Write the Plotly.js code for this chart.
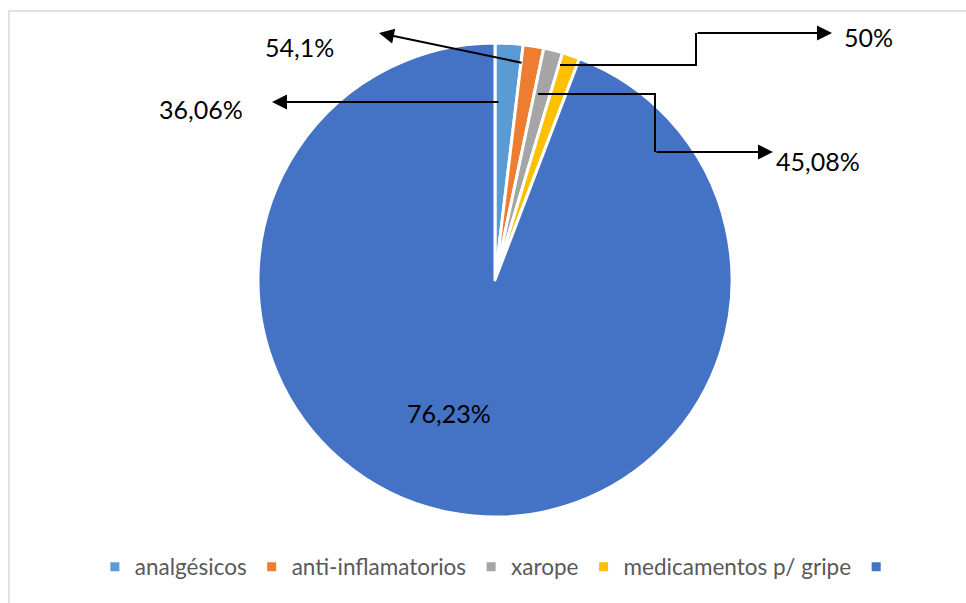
<!DOCTYPE html>
<html>
<head>
<meta charset="utf-8">
<script src="https://cdn.plot.ly/plotly-3.0.1.min.js"></script>
<style>
  html, body { margin: 0; padding: 0; background: #ffffff; }
  #chart { width: 966px; height: 603px; }
</style>
</head>
<body>
<div id="chart"></div>
<script>
// ---- data ----
const categories = ['analgésicos', 'anti-inflamatorios', 'xarope', 'medicamentos p/ gripe', ' '];
const sliceValues = [1.9, 1.4, 1.3, 1.2, 94.2];
const labelTexts = ['36,06%', '54,1%', '45,08%', '50%', '76,23%'];
const sliceColors = ['#5b9bd5', '#ed7d31', '#a5a5a5', '#ffc000', '#4472c4'];

// ---- geometry helpers (pixels -> paper) ----
const W = 966, H = 603;
const px = x => x / W;
const py = y => 1 - y / H;

// label placement (layout decoration, pixel coords): path points, last point = arrow tip
const leaders = [
  { pts: [[500, 102], [272, 102]], text: [201, 109] },
  { pts: [[523, 63], [379, 33]], text: [299, 47] },
  { pts: [[538, 94], [655, 94], [655, 152], [773, 152]], text: [818, 161] },
  { pts: [[560, 65], [696, 65], [696, 33], [832, 33]], text: [868, 37] },
  { pts: [], text: [449, 413] }
];

const shapes = [{
  type: 'rect', xref: 'paper', yref: 'paper',
  x0: px(9), x1: px(W + 20), y0: py(H + 20), y1: py(11),
  line: { color: '#d9d9d9', width: 1.5 }, fillcolor: 'rgba(0,0,0,0)', layer: 'below'
}];
const annotations = [];
const labelFont = { family: 'Lato, "Noto Sans", sans-serif', size: 25, color: '#000000' };

leaders.forEach((ld, i) => {
  const p = ld.pts;
  if (p.length > 2) {
    let d = '';
    for (let k = 0; k < p.length - 1; k++) {
      d += (k === 0 ? 'M' : 'L') + px(p[k][0]) + ',' + py(p[k][1]) + ' ';
    }
    shapes.push({ type: 'path', xref: 'paper', yref: 'paper', path: d.trim(),
      line: { color: '#000000', width: 2 } });
  }
  if (p.length >= 2) {
    const tip = p[p.length - 1], prev = p[p.length - 2];
    annotations.push({
      xref: 'paper', yref: 'paper', x: px(tip[0]), y: py(tip[1]),
      ax: prev[0] - tip[0], ay: prev[1] - tip[1], axref: 'pixel', ayref: 'pixel',
      text: '', showarrow: true, arrowhead: 2, arrowsize: 1.5, arrowwidth: 2,
      arrowcolor: '#000000', standoff: 0
    });
  }
  annotations.push({
    xref: 'paper', yref: 'paper', x: px(ld.text[0]), y: py(ld.text[1]),
    xanchor: 'center', yanchor: 'middle', showarrow: false,
    text: labelTexts[i], font: labelFont
  });
});

const trace = {
  type: 'pie',
  labels: categories,
  values: sliceValues,
  textinfo: 'none',
  sort: false,
  direction: 'clockwise',
  rotation: 0,
  marker: { colors: sliceColors, line: { color: '#ffffff', width: 3 } },
  domain: { x: [258 / W, 732 / W], y: [py(517), py(43)] },
  hoverinfo: 'none'
};

const layout = {
  width: W, height: H,
  margin: { l: 0, r: 0, t: 0, b: 0 },
  paper_bgcolor: '#ffffff',
  showlegend: true,
  legend: {
    orientation: 'h', x: 0.519, xanchor: 'center', y: py(567), yanchor: 'middle',
    font: { family: 'Lato, "Noto Sans", sans-serif', size: 22.5, color: '#595959' },
    traceorder: 'normal', itemclick: false
  },
  shapes: shapes,
  annotations: annotations
};

Plotly.newPlot('chart', [trace], layout, { displayModeBar: false, staticPlot: true });
</script>
</body>
</html>
